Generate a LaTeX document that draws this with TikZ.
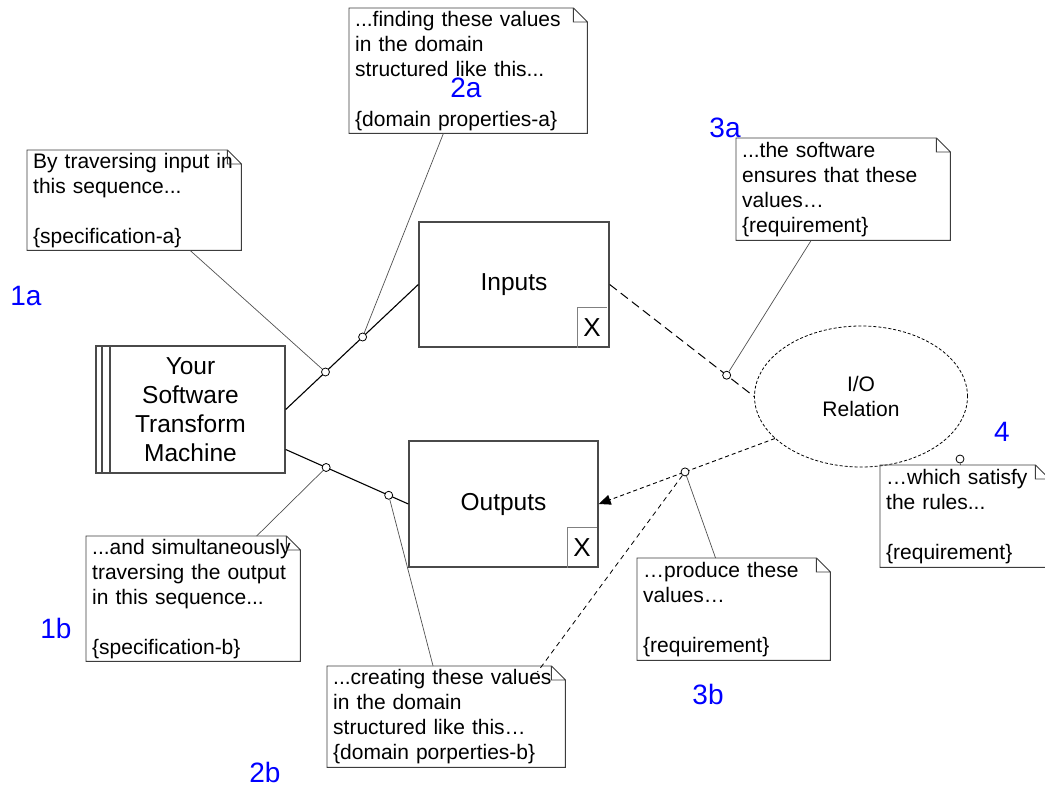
\documentclass[tikz,border=0pt]{standalone}
\usepackage{fontspec}
\setmainfont{Liberation Sans}
\usetikzlibrary{shapes.geometric,arrows.meta}

\definecolor{boxgray}{HTML}{4A4A4A}
\definecolor{notegray}{HTML}{3C3C3C}
\definecolor{tiegray}{HTML}{505050}
\definecolor{tagblue}{HTML}{0000FF}

\tikzset{
  note/.style 2 args={anchor=north west, inner xsep=6pt, inner ysep=0pt,
    align=left, text width=#1, minimum height=#2,
    font=\fontsize{21}{25}\selectfont},
  notefr/.style={draw=notegray, line width=0.9pt, line join=miter},
  tag/.style={text=tagblue, inner sep=0pt, font=\fontsize{28}{30}\selectfont},
  block/.style={draw=boxgray, line width=1.4pt, inner sep=0pt, align=center,
    font=\fontsize{24.5}{29}\selectfont},
  xmark/.style={inner sep=0pt, minimum width=29pt, minimum height=40pt,
    font=\fontsize{26}{26}\selectfont},
  knot/.style={circle, draw=black, fill=white, inner sep=0pt,
    minimum size=8pt, line width=0.8pt},
  wire/.style={draw=black, line width=1.1pt},
  tie/.style={draw=tiegray, line width=0.7pt}
}

\begin{document}
\begin{tikzpicture}[x=1pt,y=-1pt]
  \useasboundingbox (0,0) rectangle (1045,787);

  % blocks
  \node[block, minimum width=189pt, minimum height=127pt] (mach) at (190.5,409.5)
    {Your\\Software\\Transform\\Machine};
  \draw[boxgray, line width=1.2pt] ([xshift=6.7pt]mach.north west) -- ([xshift=6.7pt]mach.south west)
    ([xshift=14.7pt]mach.north west) -- ([xshift=14.7pt]mach.south west);
  \node[block, minimum width=190pt, minimum height=125pt] (inp) at (514,284.5) {Inputs};
  \node[block, minimum width=189pt, minimum height=126pt] (outp) at (503.5,504) {Outputs};
  \node[xmark, anchor=south east] (inpx) at ([xshift=-3pt]inp.south east) {X};
  \node[xmark, anchor=south east] (outpx) at ([xshift=-2pt]outp.south east) {X};
  \draw[gray, line width=1.1pt] (inpx.south west) |- (inpx.north east)
    (outpx.south west) |- (outpx.north east);
  \node[ellipse, draw=black, dash pattern=on 3pt off 2pt, line width=0.8pt,
    minimum width=213pt, minimum height=141pt, inner sep=0pt, align=center,
    font=\fontsize{21}{25}\selectfont] (rel) at (861,396.5) {I/O\\Relation};

  % notes
  \node[note={202pt}{100pt}] (travin) at (27,150)
    {By traversing input in\\this sequence...\\[25pt]\{specification-a\}};
  \node[note={226pt}{125pt}] (findin) at (349,8)
    {...finding these values\\in the domain\\structured like this...\\[25pt]\{domain properties-a\}};
  \node[note={202pt}{102pt}] (ensure) at (736,138)
    {...the software\\ensures that these\\values…\\\{requirement\}};
  \node[note={202pt}{125pt}] (travout) at (86,536)
    {...and simultaneously\\traversing the output\\in this sequence...\\[25pt]\{specification-b\}};
  \node[note={226pt}{101pt}] (create) at (327,666)
    {...creating these values\\in the domain\\structured like this…\\\{domain porperties-b\}};
  \node[note={181pt}{102pt}] (produce) at (637,558)
    {…produce these\\values…\\[25pt]\{requirement\}};
  \node[note={157pt}{102pt}] (satisfy) at (880,465)
    {…which satisfy\\the rules...\\[25pt]\{requirement\}};
  \foreach \n in {travin,findin,ensure,travout,create,produce,satisfy}
    \draw[notefr] (\n.south west) -- (\n.north west) -- ([xshift=-14pt]\n.north east)
      -- ([yshift=-14pt]\n.north east) -- (\n.south east) -- cycle
      ([xshift=-14pt]\n.north east) |- ([yshift=-14pt]\n.north east);

  % connectors
  \draw[wire] (mach.east) -- (inp.west)
    coordinate[pos=0.3] (c1) coordinate[pos=0.58] (c2);
  \draw[wire] ([yshift=-40pt]mach.east) -- (outp.west)
    coordinate[pos=0.33] (c3) coordinate[pos=0.84] (c4);
  \draw[black, line width=1pt, dash pattern=on 9pt off 5pt] (inp.east) -- (rel.west)
    coordinate[pos=0.81] (c5);
  \draw[black, line width=0.9pt, dash pattern=on 4pt off 3pt,
    -{Triangle[length=12pt,width=10pt]}] (rel.206) -- (outp.east)
    coordinate[pos=0.51] (c6);
  \coordinate (c7) at (960,459);

  \begin{scope}[every node/.style={knot}]
    \node (k1) at (c1) {};
    \node (k2) at (c2) {};
    \node (k3) at (c3) {};
    \node (k4) at (c4) {};
    \node (k5) at (c5) {};
    \node (k6) at (c6) {};
    \node (k7) at (c7) {};
  \end{scope}

  \path[tie] (travin) -- (k1);
  \path[tie] (findin) -- (k2);
  \path[tie] (travout) -- (k3);
  \path[tie] (create) -- (k4);
  \path[tie] (ensure) -- (k5);
  \path[tie] (produce) -- (k6);
  \path[tie] (satisfy) -- (k7);
  \draw[black, line width=0.8pt, dash pattern=on 5pt off 4pt] (k6)
    -- ([xshift=-28pt,yshift=-6pt]create.north east);

  % step labels
  \begin{scope}[every node/.style={tag}]
    \node (t1a) at (26,296) {1a};
    \node (t2a) at (466,88) {2a};
    \node (t3a) at (725,128) {3a};
    \node (t4) at (1002,432) {4};
    \node (t1b) at (56,628) {1b};
    \node (t2b) at (265,772) {2b};
    \node (t3b) at (708,694) {3b};
  \end{scope}
\end{tikzpicture}
\end{document}
